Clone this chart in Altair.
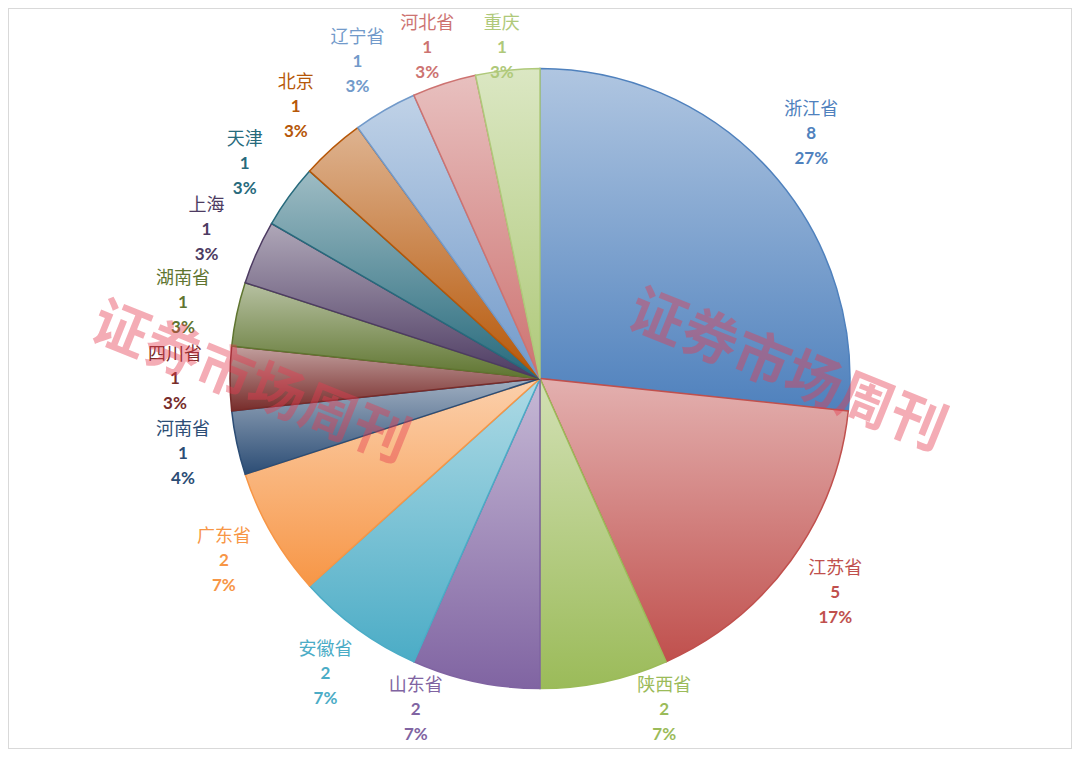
import math
import altair as alt
import pandas as pd

provinces = ["浙江省", "江苏省", "陕西省", "山东省", "安徽省", "广东省", "河南省", "四川省",
             "湖南省", "上海", "天津", "北京", "辽宁省", "河北省", "重庆"]
counts = [8, 5, 2, 2, 2, 2, 1, 1, 1, 1, 1, 1, 1, 1, 1]
pct_labels = ["27%", "17%", "7%", "7%", "7%", "7%", "4%", "3%", "3%", "3%", "3%", "3%", "3%", "3%", "3%"]
colors = ["#4F81BD", "#C0504D", "#9BBB59", "#8064A2", "#4BACC6", "#F79646", "#2C4D75", "#772C2A",
          "#5F7530", "#4D3B62", "#276A7C", "#B65708", "#729ACA", "#CD7371", "#AFC97A"]
watermark = "证券市场周刊"

total = sum(counts)
ends, acc = [], 0
for c in counts:
    acc += c
    ends.append(acc)
starts = [e - c for e, c in zip(ends, counts)]

df = pd.DataFrame({
    "province": provinces,
    "count": counts,
    "pct": pct_labels,
    "color": colors,
    "start": starts,
    "end": ends,
})

W, H = 1064, 741
CX, CY = W / 2, H / 2
R = 310
LR = 365          # label distance from centre
TOP, BOT = 40, 702  # label clamp inside chart area
theta_scale = alt.Scale(domain=[0, total], range=[0, 2 * math.pi])


def tint(hexc, f):
    h = hexc.lstrip("#")
    rgb = [int(h[i:i + 2], 16) for i in (0, 2, 4)]
    rgb = [round(v + (255 - v) * f) for v in rgb]
    return "#%02x%02x%02x" % tuple(rgb)


layers = []
for p, c in zip(provinces, colors):
    grad = alt.LinearGradient(
        gradient="linear",
        stops=[alt.GradientStop(color=tint(c, 0.55), offset=0),
               alt.GradientStop(color=c, offset=1)],
        x1=0, x2=0, y1=0, y2=1,
    )
    layers.append(
        alt.Chart(df)
        .transform_filter(alt.datum.province == p)
        .mark_arc(radius=R, fill=grad, stroke=c, strokeWidth=1.5)
        .encode(theta=alt.Theta("start:Q", scale=theta_scale), theta2="end:Q")
    )

label_base = alt.Chart(df).transform_calculate(
    ang=f"(datum.start + datum.end) / 2 / {total} * 2 * PI",
).transform_calculate(
    ly0=f"{CY} - {LR} * cos(datum.ang)",
).transform_calculate(
    ly=f"clamp(datum.ly0, {TOP}, {BOT})",
).transform_calculate(
    lx=f"datum.ly0 > {BOT} ? {CX} + (sin(datum.ang) > 0 ? 1 : -1) * sqrt(354*354 - pow(datum.ly - {CY}, 2)) "
       f": {CX} + {LR} * sin(datum.ang)",
)
enc = dict(
    x=alt.X("lx:Q", scale=None, axis=None),
    y=alt.Y("ly:Q", scale=None, axis=None),
    color=alt.Color("color:N", scale=None),
)
name_layer = label_base.mark_text(font="Noto Sans CJK SC", fontSize=18, dy=-24).encode(
    text="province:N", **enc)
count_layer = label_base.mark_text(font="Lato", fontWeight="bold", fontSize=17, dy=0).encode(
    text="count:Q", **enc)
pct_layer = label_base.mark_text(font="Lato", fontWeight="bold", fontSize=17, dy=25).encode(
    text="pct:N", **enc)

wm_df = pd.DataFrame({"t": [watermark]})
wm_style = dict(font="Noto Sans CJK SC", fontWeight="bold", fontSize=56, angle=22,
                color="#E63C50", opacity=0.42)
wm_left = alt.Chart(wm_df).mark_text(**wm_style).encode(
    text="t:N", x=alt.value(242), y=alt.value(376))
wm_right = alt.Chart(wm_df).mark_text(**wm_style).encode(
    text="t:N", x=alt.value(779), y=alt.value(364))

chart = alt.layer(*layers, name_layer, count_layer, pct_layer, wm_left, wm_right).properties(
    width=W, height=H, padding=0, autosize=alt.AutoSizeParams(type="none"),
    background="white",
).configure_view(stroke="#d9d9d9", strokeWidth=2)

chart.save("out.html", embed_options={"renderer": "svg", "actions": False})
